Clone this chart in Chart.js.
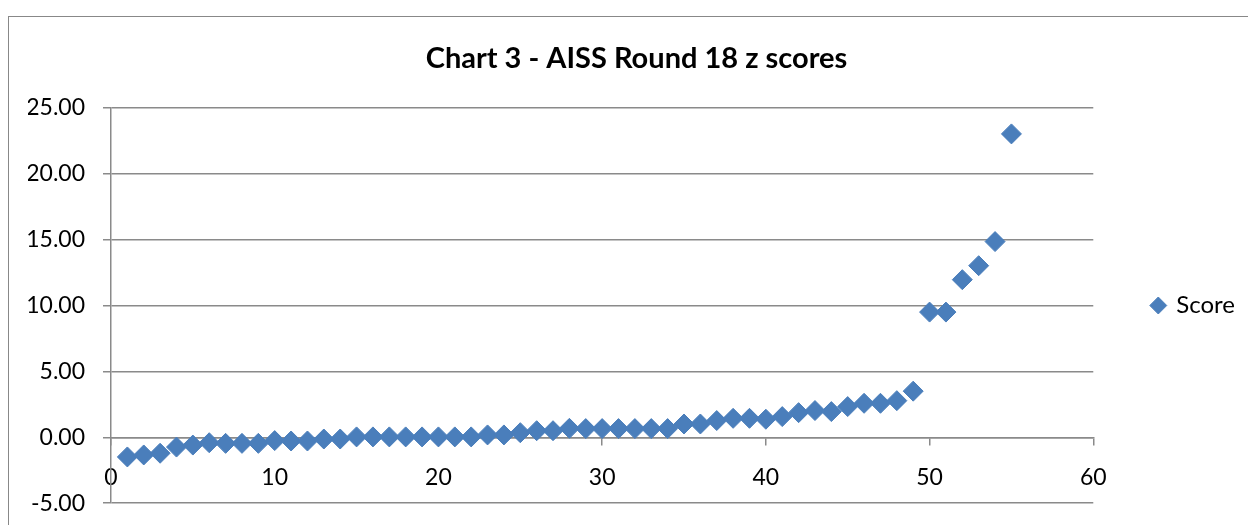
<!DOCTYPE html>
<html>
<head>
<meta charset="utf-8">
<script src="https://cdn.jsdelivr.net/npm/chart.js@4.4.1/dist/chart.umd.min.js"></script>
<style>
  html, body { margin: 0; padding: 0; background: #fff; overflow: hidden; width: 1248px; height: 525px; }
  #frame { position: absolute; left: 8px; top: 16px; width: 1400px; height: 700px;
           border: 1.5px solid #888; box-sizing: border-box; }
  #wrap { position: absolute; left: 0; top: 0; width: 1248px; height: 535px; }
</style>
</head>
<body>
<div id="frame"></div>
<div id="wrap"><canvas id="c" width="1248" height="535"></canvas></div>
<script>
const chartTitle = 'Chart 3 - AISS Round 18 z scores';
const seriesName = 'Score';
const xValues = [1,2,3,4,5,6,7,8,9,10,11,12,13,14,15,16,17,18,19,20,21,22,23,24,25,26,27,28,29,30,31,32,33,34,35,36,37,38,39,40,41,42,43,44,45,46,47,48,49,50,51,52,53,54,55];
const yValues = [-1.49,-1.34,-1.21,-0.74,-0.59,-0.41,-0.46,-0.46,-0.46,-0.25,-0.28,-0.28,-0.13,-0.13,0.03,0.03,0.03,0.03,0.03,0.03,0.03,0.03,0.18,0.18,0.35,0.5,0.5,0.68,0.66,0.66,0.66,0.66,0.66,0.66,1.01,1.01,1.27,1.44,1.44,1.37,1.57,1.87,2.03,1.95,2.33,2.58,2.58,2.78,3.5,9.5,9.5,11.96,13.02,14.85,23.02];
const xTicks = { min: 0, max: 60, step: 10 };
const yTicks = { min: -5, max: 25, step: 5 };

const points = xValues.map((x, i) => ({ x: x, y: yValues[i] }));
const gridColor = '#8a8a8a';
const blue = '#4A7EBB';

new Chart(document.getElementById('c'), {
  type: 'scatter',
  data: {
    datasets: [{
      label: seriesName,
      data: points,
      pointStyle: 'rectRot',
      pointRadius: 10,
      pointHoverRadius: 10,
      backgroundColor: blue,
      borderColor: blue,
      borderWidth: 1
    }]
  },
  options: {
    responsive: false,
    animation: false,
    events: [],
    layout: { padding: { left: 28, right: 3, top: 0, bottom: 0 } },
    plugins: {
      title: {
        display: true,
        text: chartTitle,
        color: '#000',
        font: { family: 'Lato', size: 29, weight: 'bold', lineHeight: 1.2 },
        padding: { top: 41, bottom: 32 }
      },
      legend: {
        display: true,
        position: 'right',
        fullSize: false,
        labels: {
          usePointStyle: true,
          boxWidth: 12,
          boxHeight: 12,
          padding: 59,
          color: '#000',
          font: { family: 'Lato', size: 24 }
        }
      },
      tooltip: { enabled: false }
    },
    scales: {
      x: {
        type: 'linear',
        position: { y: 0 },
        min: xTicks.min,
        max: xTicks.max,
        afterFit: s => { s.height = 0; },
        ticks: {
          stepSize: xTicks.step,
          color: '#000',
          padding: 19,
          font: { family: 'Lato', size: 23 }
        },
        grid: { drawOnChartArea: false, drawTicks: true, tickLength: 7, color: gridColor, lineWidth: 1.5 },
        border: { display: true, color: gridColor, width: 1.5 }
      },
      y: {
        type: 'linear',
        min: yTicks.min,
        max: yTicks.max,
        afterFit: s => { s.width = 83; },
        ticks: {
          stepSize: yTicks.step,
          color: '#000',
          padding: 18,
          font: { family: 'Lato', size: 23 },
          callback: v => Number(v).toFixed(2)
        },
        grid: { drawOnChartArea: true, drawTicks: true, tickLength: 8, color: gridColor, lineWidth: 1.5 },
        border: { display: true, color: gridColor, width: 1.5 }
      }
    }
  }
});
</script>
</body>
</html>
